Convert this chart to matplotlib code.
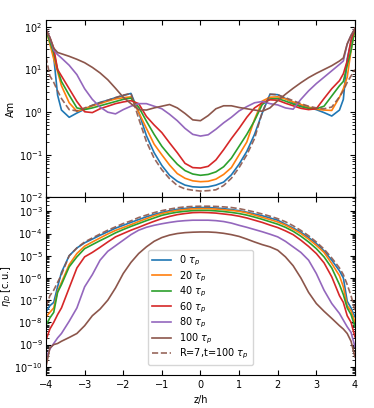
import numpy as np
import matplotlib
matplotlib.use("Agg")
import matplotlib.pyplot as plt
from matplotlib.ticker import LogLocator, NullFormatter

# z/h sample points (shared by every curve)
z = [-4.0, -3.9, -3.8, -3.7, -3.6, -3.4, -3.2, -3.0, -2.8, -2.6, -2.4, -2.2, -2.0,
     -1.8, -1.6, -1.4, -1.2, -1.0, -0.8, -0.6, -0.4, -0.2, 0.0,
     0.2, 0.4, 0.6, 0.8, 1.0, 1.2, 1.4, 1.6, 1.8, 2.0, 2.2, 2.4, 2.6, 2.8,
     3.0, 3.2, 3.4, 3.6, 3.7, 3.8, 3.9, 4.0]

labels = [r"0 $\tau_p$", r"20 $\tau_p$", r"40 $\tau_p$", r"60 $\tau_p$",
          r"80 $\tau_p$", r"100 $\tau_p$", r"R=7,t=100 $\tau_p$"]

# Am, read as log10 values off the picture
am_0 = [1.93, 1.7, 1.3, 0.4, 0.05, -0.12, -0.02, 0.07, 0.16, 0.23, 0.28, 0.34, 0.39,
        0.44, 0.0, -0.55, -0.95, -1.25, -1.48, -1.62, -1.71, -1.75, -1.76,
        -1.75, -1.71, -1.64, -1.47, -1.22, -0.92, -0.52, -0.02, 0.42, 0.41, 0.32, 0.22, 0.16, 0.11,
        0.06, -0.01, -0.09, 0.05, 0.3, 1.25, 1.65, 1.96]
am_20 = [1.93, 1.6, 1.25, 0.95, 0.62, 0.22, 0.02, 0.08, 0.15, 0.2, 0.26, 0.31, 0.34,
         0.36, 0.0, -0.38, -0.75, -1.0, -1.24, -1.44, -1.55, -1.61, -1.63,
         -1.62, -1.57, -1.46, -1.3, -1.0, -0.7, -0.17, 0.26, 0.35, 0.36, 0.31, 0.24, 0.18, 0.12,
         0.07, 0.05, 0.04, 0.35, 0.55, 0.82, 1.45, 1.96]
am_40 = [1.93, 1.65, 1.4, 1.0, 0.72, 0.4, 0.1, 0.06, 0.1, 0.15, 0.2, 0.25, 0.3,
         0.33, 0.12, -0.21, -0.52, -0.8, -1.02, -1.22, -1.37, -1.45, -1.48,
         -1.46, -1.4, -1.28, -1.08, -0.8, -0.52, -0.2, 0.18, 0.31, 0.32, 0.26, 0.19, 0.13, 0.09,
         0.08, 0.14, 0.38, 0.62, 0.72, 1.1, 1.45, 1.96]
am_60 = [1.93, 1.75, 1.5, 1.0, 0.85, 0.55, 0.25, 0.01, -0.01, 0.08, 0.14, 0.2, 0.24,
         0.27, 0.2, -0.1, -0.3, -0.48, -0.72, -0.95, -1.2, -1.3, -1.31,
         -1.27, -1.12, -0.88, -0.62, -0.38, -0.12, 0.1, 0.22, 0.29, 0.28, 0.21, 0.15, 0.09, 0.06,
         0.08, 0.32, 0.55, 0.74, 0.9, 1.2, 1.7, 1.96]
am_80 = [1.93, 1.75, 1.45, 1.35, 1.27, 1.1, 0.88, 0.55, 0.3, 0.12, 0.0, -0.04, 0.06,
         0.14, 0.2, 0.2, 0.14, 0.08, -0.05, -0.2, -0.38, -0.52, -0.56,
         -0.53, -0.4, -0.25, -0.12, 0.03, 0.13, 0.22, 0.25, 0.2, 0.17, 0.1, 0.07, 0.3, 0.5,
         0.67, 0.82, 0.97, 1.12, 1.2, 1.6, 1.8, 1.96]
am_100 = [1.93, 1.75, 1.5, 1.4, 1.37, 1.31, 1.24, 1.16, 1.05, 0.92, 0.76, 0.56, 0.35,
          0.2, 0.06, 0.05, 0.1, 0.14, 0.18, 0.1, -0.03, -0.18, -0.2,
          -0.08, 0.08, 0.15, 0.15, 0.11, 0.08, 0.05, 0.02, 0.1, 0.27, 0.42, 0.56, 0.69, 0.81,
          0.91, 1.0, 1.09, 1.2, 1.27, 1.6, 1.8, 1.96]
am_r7 = [1.3, 0.85, 0.7, 0.5, 0.32, 0.06, 0.03, 0.1, 0.16, 0.22, 0.28, 0.34, 0.4,
         0.44, -0.15, -0.69, -1.08, -1.35, -1.56, -1.72, -1.8, -1.83, -1.85,
         -1.84, -1.82, -1.72, -1.55, -1.3, -1.0, -0.62, 0.0, 0.42, 0.41, 0.34, 0.27, 0.2, 0.14,
         0.1, 0.08, 0.12, 0.36, 0.5, 0.7, 0.85, 1.0]

# eta_D, read as log10 values off the picture
eta_0 = [-7.53, -7.25, -7.1, -6.4, -5.75, -5.0, -4.65, -4.42, -4.25, -4.08, -3.92, -3.76, -3.63,
         -3.5, -3.37, -3.25, -3.14, -3.05, -2.97, -2.91, -2.87, -2.84, -2.83,
         -2.83, -2.85, -2.88, -2.92, -2.97, -3.04, -3.12, -3.2, -3.3, -3.4, -3.58, -3.75, -3.94, -4.18,
         -4.45, -4.78, -5.2, -5.68, -6.0, -7.05, -7.35, -7.75]
eta_20 = [-7.75, -7.55, -7.35, -6.6, -6.2, -5.4, -4.9, -4.57, -4.38, -4.2, -4.02, -3.86, -3.73,
          -3.6, -3.46, -3.33, -3.2, -3.1, -3.02, -2.96, -2.92, -2.89, -2.88,
          -2.88, -2.9, -2.93, -2.96, -3.0, -3.07, -3.17, -3.27, -3.37, -3.48, -3.62, -3.8, -4.0, -4.25,
          -4.53, -4.85, -5.35, -5.9, -6.4, -7.25, -7.48, -7.98]
eta_40 = [-8.13, -7.8, -7.55, -6.65, -6.3, -5.5, -5.05, -4.68, -4.5, -4.32, -4.15, -3.97, -3.82,
          -3.68, -3.55, -3.42, -3.3, -3.18, -3.1, -3.04, -3.0, -2.97, -2.96,
          -2.96, -2.98, -3.01, -3.05, -3.1, -3.17, -3.26, -3.36, -3.47, -3.58, -3.72, -3.9, -4.12, -4.38,
          -4.68, -5.05, -5.55, -6.3, -6.75, -7.35, -7.65, -8.2]
eta_60 = [-8.8, -8.3, -8.0, -7.65, -7.35, -6.45, -5.55, -5.05, -4.85, -4.62, -4.38, -4.15, -4.0,
          -3.85, -3.72, -3.58, -3.45, -3.33, -3.23, -3.15, -3.1, -3.06, -3.05,
          -3.06, -3.08, -3.12, -3.16, -3.22, -3.3, -3.4, -3.5, -3.62, -3.73, -3.88, -4.05, -4.3, -4.58,
          -4.9, -5.32, -5.95, -6.8, -7.1, -7.7, -8.0, -8.65]
eta_80 = [-9.6, -9.2, -8.95, -8.7, -8.5, -7.95, -7.35, -6.4, -5.85, -5.2, -4.8, -4.55, -4.3,
          -4.05, -3.85, -3.72, -3.63, -3.56, -3.5, -3.45, -3.42, -3.4, -3.4,
          -3.4, -3.42, -3.46, -3.53, -3.63, -3.72, -3.82, -3.92, -4.03, -4.15, -4.35, -4.6, -4.85, -5.2,
          -5.8, -6.55, -7.15, -7.6, -7.9, -8.2, -8.45, -9.1]
eta_100 = [-10.0, -9.15, -9.0, -8.95, -8.85, -8.68, -8.5, -8.15, -7.7, -7.4, -7.0, -6.45, -5.8,
           -5.3, -4.9, -4.6, -4.35, -4.18, -4.07, -4.0, -3.96, -3.94, -3.93,
           -3.93, -3.95, -3.99, -4.05, -4.13, -4.25, -4.38, -4.5, -4.6, -4.75, -5.05, -5.45, -6.0, -6.65,
           -7.15, -7.5, -7.82, -8.15, -8.3, -8.5, -8.85, -9.55]
eta_r7 = [-7.3, -6.8, -6.55, -6.2, -5.85, -5.0, -4.65, -4.38, -4.2, -4.02, -3.85, -3.7, -3.55,
          -3.43, -3.28, -3.17, -3.06, -2.97, -2.9, -2.84, -2.8, -2.78, -2.77,
          -2.77, -2.78, -2.8, -2.83, -2.88, -2.95, -3.03, -3.12, -3.22, -3.33, -3.47, -3.65, -3.86, -4.1,
          -4.38, -4.7, -5.1, -5.55, -5.85, -6.3, -6.8, -7.45]

am_curves = [am_0, am_20, am_40, am_60, am_80, am_100]
eta_curves = [eta_0, eta_20, eta_40, eta_60, eta_80, eta_100]
colors = ["tab:blue", "tab:orange", "tab:green", "tab:red", "tab:purple", "tab:brown"]

plt.rcParams["font.size"] = 7

fig, (ax1, ax2) = plt.subplots(2, 1, figsize=(3.74, 4.08), dpi=100, sharex=True)
fig.subplots_adjust(left=0.123, right=0.949, top=0.951, bottom=0.081, hspace=0)

for c, a, e, lab in zip(colors, am_curves, eta_curves, labels):
    ax1.plot(z, np.power(10.0, a), color=c, lw=1.2)
    ax2.plot(z, np.power(10.0, e), color=c, lw=1.2, label=lab)
ax1.plot(z, np.power(10.0, am_r7), color="tab:brown", lw=1.2, ls="--", alpha=0.9)
ax2.plot(z, np.power(10.0, eta_r7), color="tab:brown", lw=1.2, ls="--", alpha=0.9,
         label=labels[6])

for ax in (ax1, ax2):
    ax.set_yscale("log")
    ax.tick_params(which="both", direction="in", top=True, right=True)
    ax.tick_params(axis="y", which="major", pad=2.5)
    ax.yaxis.set_major_locator(LogLocator(base=10, numticks=30))
    ax.yaxis.set_minor_locator(LogLocator(base=10, subs=np.arange(2, 10), numticks=100))
    ax.yaxis.set_minor_formatter(NullFormatter())

ax1.set_ylim(1e-2, 1.45e2)
ax2.set_ylim(4.3e-11, 4.2e-3)
ax2.set_xlim(-4, 4)
ax2.set_xticks([-4, -3, -2, -1, 0, 1, 2, 3, 4])

ax1.set_ylabel("Am", labelpad=2)
ax2.set_ylabel(r"$\eta_D$ [c.u.]", labelpad=1)
ax2.set_xlabel("z/h")
ax2.legend(loc="lower center", fontsize=7, labelspacing=0.12, borderaxespad=1.0)

fig.savefig("out.png", dpi=100)
